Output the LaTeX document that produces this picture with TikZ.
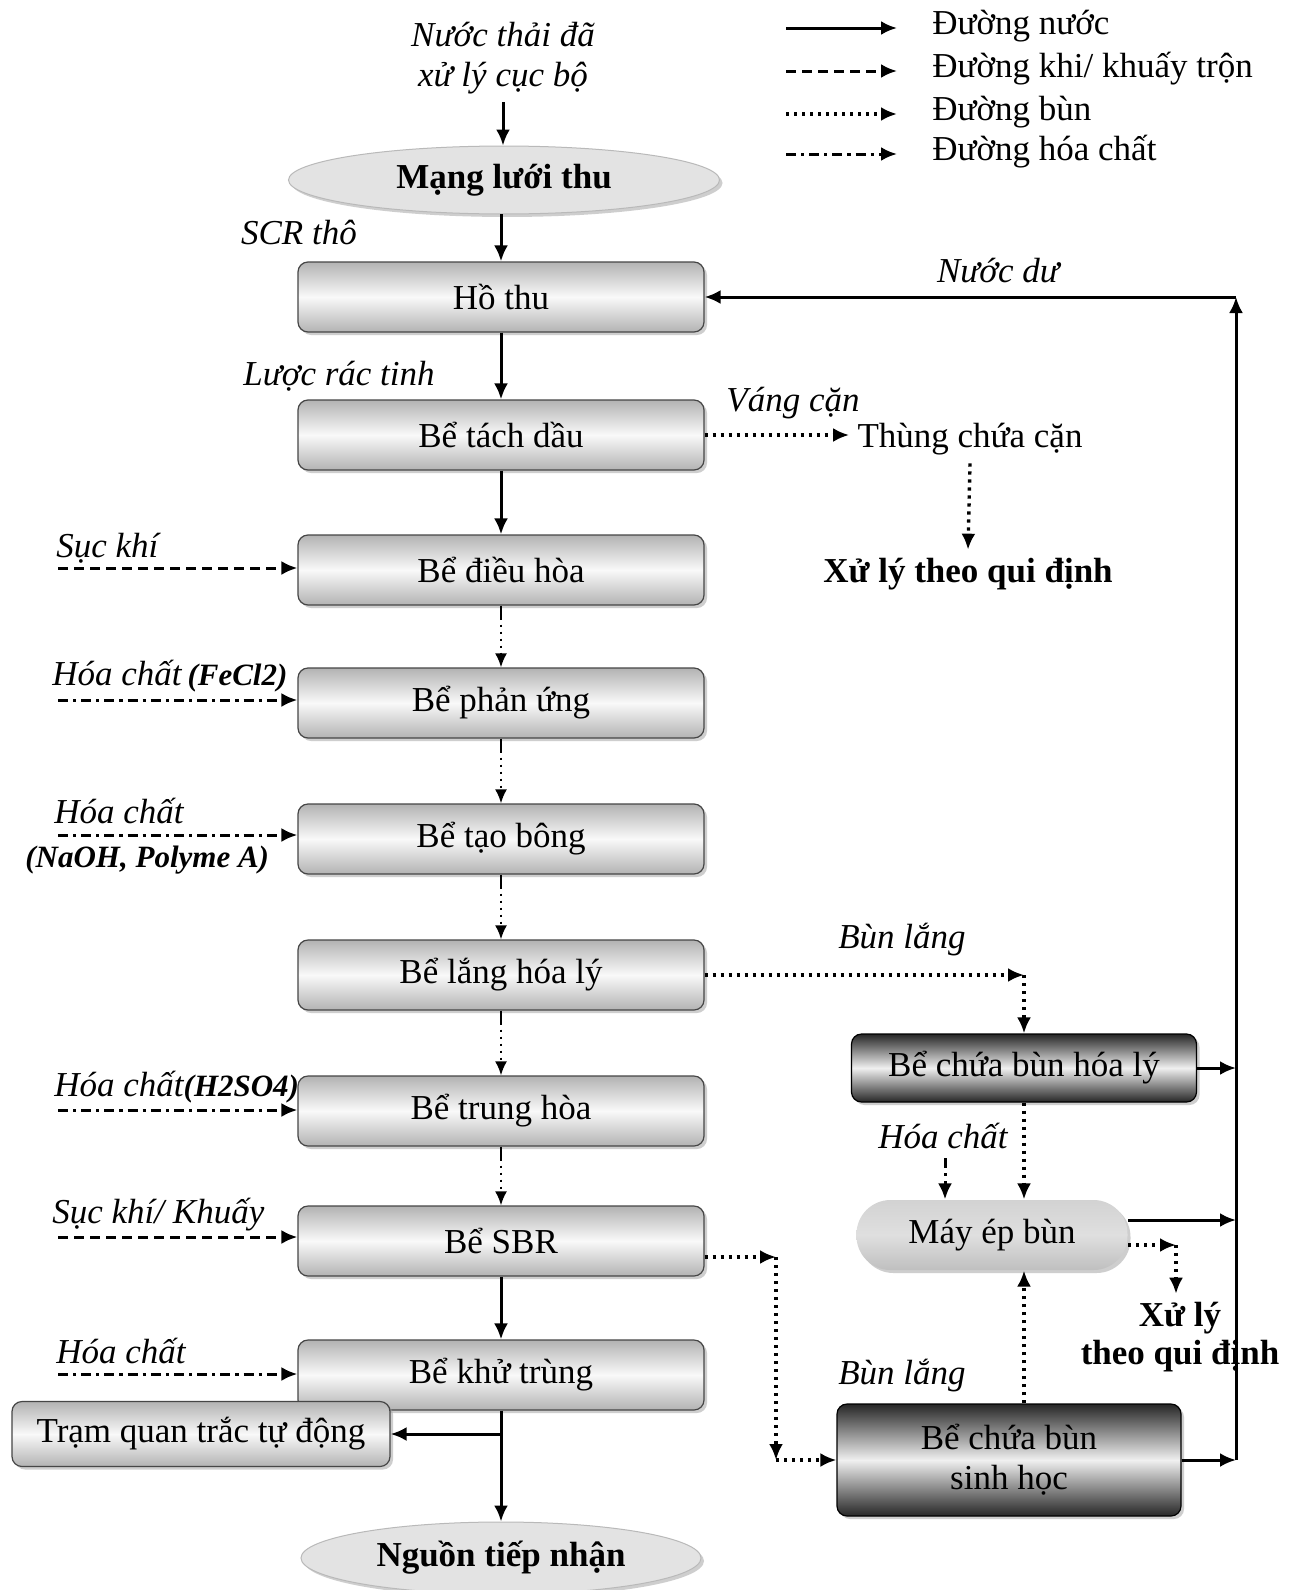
\documentclass[tikz,border=0pt]{standalone}
\usepackage{fontspec}
\setmainfont{Liberation Serif}
\usetikzlibrary{arrows.meta,shapes.geometric,shadows}
\tikzset{
  base/.style={font=\fontsize{17.5}{20}\selectfont, inner sep=4pt},
  shad/.style={drop shadow={shadow xshift=1.5pt,shadow yshift=-1.5pt,fill=gray!75}},
  lbox/.style={rectangle, rounded corners=5pt, draw=gray!55!black, line width=0.6pt,
    top color=gray!60, bottom color=gray!60, middle color=gray!5,
    minimum width=203pt, minimum height=35pt, shad, base},
  dbox/.style={lbox, top color=black!85, bottom color=black!85, middle color=gray!12, draw=black},
  oval/.style={ellipse, fill=gray!22, draw=gray!55, line width=0.5pt, shad, base, font=\fontsize{17.5}{20}\selectfont\bfseries},
  lab/.style={base, font=\fontsize{17.5}{20}\selectfont\itshape},
  txt/.style={base},
  water/.style={line width=1.5pt, -{Latex[length=8pt,width=7pt]}},
  air/.style={water, dash pattern=on 5pt off 3pt},
  mud/.style={water, line width=1.7pt, dash pattern=on 1.6pt off 2.4pt},
  chem/.style={water, dash pattern=on 5pt off 2.5pt on 1.6pt off 2.5pt},
  flow/.style={line width=1.1pt, -{Latex[length=7pt,width=6pt]},
    dash pattern=on 7pt off 2.5pt on 1pt off 2.5pt on 1pt off 2.5pt on 1pt off 2.5pt on 1pt off 2.5pt on 1pt off 2.5pt on 1pt off 2.5pt on 1pt off 2.5pt}
}
\newcommand{\bi}[1]{{\fontsize{15.5}{18}\selectfont\bfseries\itshape #1}}
\begin{document}
\begin{tikzpicture}[x=0.5pt,y=-0.5pt]
\useasboundingbox (0,0) rectangle (1290,1590);
\fill[white] (0,0) rectangle (1290,1590);

% legend
\coordinate (l1s) at (786,28);  \coordinate (l1e) at (897,28);
\coordinate (l2s) at (786,71);  \coordinate (l2e) at (897,71);
\coordinate (l3s) at (786,114); \coordinate (l3e) at (897,114);
\coordinate (l4s) at (786,154); \coordinate (l4e) at (897,154);
\draw[water] (l1s) -- (l1e);
\draw[air] (l2s) -- (l2e);
\draw[mud] (l3s) -- (l3e);
\draw[chem] (l4s) -- (l4e);
\node[txt, anchor=west] (t1) at (924,26) {Đường nước};
\node[txt, anchor=west] (t2) at (924,69) {Đường khi/ khuấy trộn};
\node[txt, anchor=west] (t3) at (924,112) {Đường bùn};
\node[txt, anchor=west] (t4) at (924,152) {Đường hóa chất};

% main column
\node[lab, align=center] (src) at (503,58) {Nước thải đã\\xử lý cục bộ};
\node[oval, minimum width=215.5pt, minimum height=33pt] (mang) at (504,180) {Mạng lưới thu};
\node[lbox] (hothu) at (501,297) {Hồ thu};
\node[lbox] (tachdau) at (501,435) {Bể tách dầu};
\node[lbox] (dieuhoa) at (501,570) {Bể điều hòa};
\node[lbox] (phanung) at (501,703) {Bể phản ứng};
\node[lbox] (taobong) at (501,839) {Bể tạo bông};
\node[lbox] (lang) at (501,975) {Bể lắng hóa lý};
\node[lbox] (trunghoa) at (501,1111) {Bể trung hòa};
\node[lbox] (sbr) at (501,1241) {Bể SBR};
\node[lbox] (khutrung) at (501,1375) {Bể khử trùng};
\node[lbox, minimum width=189pt, minimum height=32.5pt] (tram) at (201,1434) {Trạm quan trắc tự động};
\node[oval, minimum width=200pt, minimum height=36pt] (nguon) at (501,1558) {Nguồn tiếp nhận};

\node[lab] (scr) at (299,233) {SCR thô};
\node[lab] (luoc) at (339,376) {Lược rác tinh};

\draw[water] (src.south) -- (mang.north -| src.south);
\draw[water] (mang.south -| hothu.north) -- (hothu.north);
\draw[water] (hothu.south) -- (tachdau.north);
\draw[water] (tachdau.south) -- (dieuhoa.north);
\draw[flow] (dieuhoa.south) -- (phanung.north);
\draw[flow] (phanung.south) -- (taobong.north);
\draw[flow] (taobong.south) -- (lang.north);
\draw[flow] (lang.south) -- (trunghoa.north);
\draw[flow] (trunghoa.south) -- (sbr.north);
\draw[water] (sbr.south) -- (khutrung.north);
\draw[water] (khutrung.south) -- (nguon.north);
\coordinate (jt) at (khutrung.south |- tram.east);
\draw[water] (jt) -- (tram.east);

% left inputs
\node[lab, anchor=west] (sk1) at (48,548) {Sục khí};
\coordinate (a1) at (58,568);
\draw[air] (a1) -- (a1 -| dieuhoa.west);

\node[lab, anchor=west] (hc1) at (44,676) {Hóa chất\,\bi{(FeCl2)}};
\coordinate (a2) at (58,700);
\draw[chem] (a2) -- (a2 -| phanung.west);

\node[lab, anchor=west] (hc2) at (46,811) {Hóa chất};
\node[base, anchor=west, font=\fontsize{15.5}{18}\selectfont\bfseries\itshape] (hc2b) at (17,860) {(NaOH, Polyme A)};
\coordinate (a3) at (58,835);
\draw[chem] (a3) -- (a3 -| taobong.west);

\node[lab, anchor=west] (hc3) at (46,1087) {Hóa chất\bi{(H2SO4)}};
\coordinate (a4) at (58,1110);
\draw[chem] (a4) -- (a4 -| trunghoa.west);

\node[lab, anchor=west] (sk2) at (44,1215) {Sục khí/ Khuấy};
\coordinate (a5) at (58,1237);
\draw[air] (a5) -- (a5 -| sbr.west);

\node[lab, anchor=west] (hc4) at (48,1351) {Hóa chất};
\coordinate (a6) at (58,1374);
\draw[chem] (a6) -- (a6 -| khutrung.west);

% scum
\node[lab] (vang) at (793,403) {Váng cặn};
\node[txt] (thung) at (970,439) {Thùng chứa cặn};
\node[txt, font=\fontsize{17.5}{20}\selectfont\bfseries] (xlq) at (968,574) {Xử lý theo qui định};
\draw[mud] (tachdau.east) -- (tachdau.east -| thung.west);
\draw[mud] (thung.south) -- (xlq.north);

% return water
\node[lab] (nuocdu) at (998,271) {Nước dư};
\coordinate (rb) at (1236,1460);
\coordinate (rt) at (1236,297);
\draw[water] (rb) -- (rt);
\draw[water] (rt) -- (hothu.east);

% sludge
\node[dbox, minimum width=172.5pt, minimum height=34pt] (hoaly) at (1024,1068) {Bể chứa bùn hóa lý};
\node[lbox, rounded corners=17pt, minimum width=135.5pt, minimum height=35pt, draw=none, top color=gray!35, bottom color=gray!50, middle color=gray!25] (mayep) at (992,1235) {Máy ép bùn};
\node[dbox, minimum width=172pt, minimum height=56pt, align=center] (sinhhoc) at (1009,1460) {Bể chứa bùn\\sinh học};

\node[lab] (bl1) at (902,940) {Bùn lắng};
\coordinate (c1) at (hoaly.north |- lang.east);
\draw[mud] (lang.east) -- (c1);
\draw[mud] (c1) -- (hoaly.north);
\draw[water] (hoaly.east) -- (hoaly.east -| rb);

\node[lab] (hc5) at (943,1136) {Hóa chất};
\coordinate (hcs) at (945,1158);
\draw[chem] (hcs) -- (hcs |- mayep.north);
\draw[mud] (hoaly.south) -- (hoaly.south |- mayep.north);

\coordinate (me1) at ([yshift=7.5pt]mayep.east);
\draw[water] (me1) -- (me1 -| rb);
\node[txt, font=\fontsize{17.5}{19}\selectfont\bfseries, align=center] (xl2) at (1180,1337) {Xử lý\\theo qui định};
\coordinate (me2) at ([yshift=-5pt]mayep.east);
\coordinate (xc) at (1176,1245);
\draw[mud] (me2) -- (xc);
\draw[mud] (xc) -- (xc |- xl2.north);

\node[lab] (bl2) at (902,1376) {Bùn lắng};
\coordinate (s1) at ([yshift=-8pt]sbr.east);
\coordinate (c2) at (776,1257);
\coordinate (c3) at (c2 |- sinhhoc.west);
\draw[mud] (s1) -- (c2);
\draw[mud] (c2) -- (c3);
\draw[mud] (c3) -- (sinhhoc.west);
\coordinate (c4) at (sinhhoc.north -| hoaly.south);
\draw[mud] (c4) -- (c4 |- mayep.south);
\draw[water] (sinhhoc.east) -- (sinhhoc.east -| rb);
\end{tikzpicture}
\end{document}
